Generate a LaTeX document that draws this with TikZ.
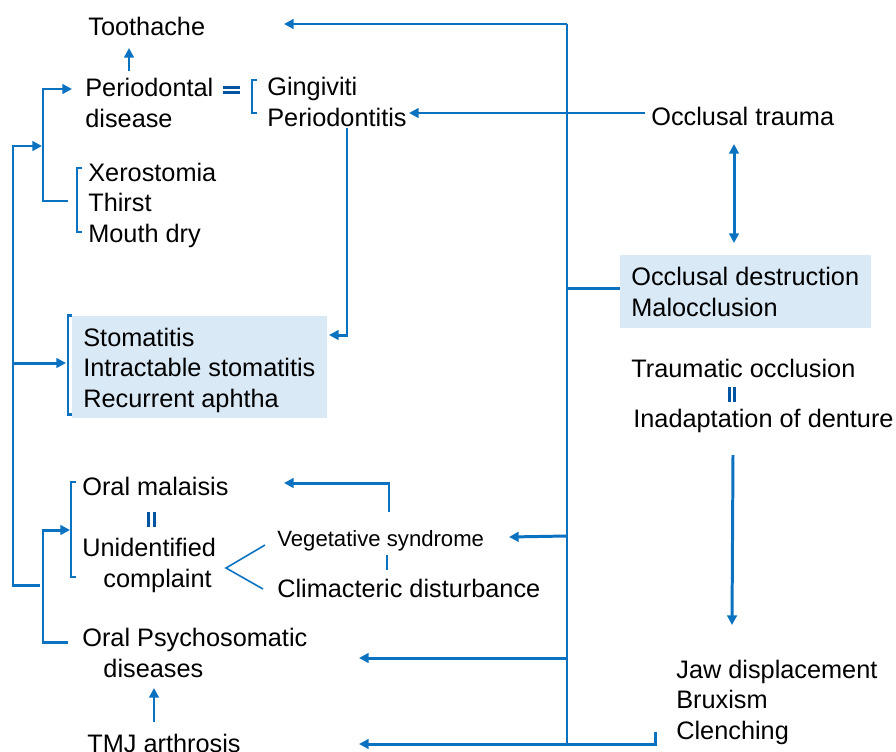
\documentclass[tikz,border=0pt]{standalone}
\usepackage{fontspec}
\setmainfont{Liberation Sans}
\usetikzlibrary{arrows.meta}

\definecolor{lineblue}{RGB}{10,114,192}
\definecolor{eqblue}{RGB}{0,84,160}
\definecolor{boxblue}{RGB}{218,233,246}

\tikzset{
    txt/.style={inner sep=0pt, anchor=base west, align=left, font=\fontsize{14.4}{17.3}\selectfont},
    smalltxt/.style={txt, font=\fontsize{12.6}{15}\selectfont},
    hlbox/.style={fill=boxblue, inner sep=0pt, anchor=north west},
    conn/.style={draw=lineblue, line width=1.7pt},
    thin/.style={draw=lineblue, line width=0.8pt},
    arr/.style={conn, -{Triangle[length=5.5pt, width=5.5pt]}},
    darr/.style={conn, {Triangle[length=5.5pt, width=5.5pt]}-{Triangle[length=5.5pt, width=5.5pt]}},
    eqmark/.style={draw=eqblue, line width=1.8pt}
}

\begin{document}
\begin{tikzpicture}[x=0.02cm, y=-0.02cm]
    \useasboundingbox (0,0) rectangle (896,751);

    % shaded boxes
    \node[hlbox, minimum width=145.1pt, minimum height=57.8pt] (stbox) at (72,316) {};
    \node[hlbox, minimum width=142.9pt, minimum height=41.4pt] (ocbox) at (620,255) {};

    % left column (multi-line nodes sit on their last line)
    \node[txt] (tooth) at (88,35) {Toothache};
    \node[txt] (perio) at (85,127) {Periodontal\\disease};
    \node[txt] (ging) at (267,126) {Gingiviti\\Periodontitis};
    \node[txt] (xero) at (88,242) {Xerostomia\\Thirst\\Mouth dry};
    \node[txt] (stoma) at (83,407) {Stomatitis\\Intractable stomatitis\\Recurrent aphtha};
    \node[txt] (malaise) at (82,495) {Oral malaisis};
    \node[txt] (unid) at (82,587) {Unidentified\\\hspace*{12pt}complaint};
    \node[smalltxt] (veg) at (277,546) {Vegetative syndrome};
    \node[txt] (clim) at (277,597) {Climacteric disturbance};
    \node[txt] (psycho) at (82,677) {Oral Psychosomatic\\\hspace*{12pt}diseases};
    \node[txt] (tmj) at (87,752) {TMJ arthrosis};

    % right column
    \node[txt] (trauma) at (651,125) {Occlusal trauma};
    \node[txt] (ocdes) at (631,316) {Occlusal destruction\\Malocclusion};
    \node[txt] (tocc) at (631,377) {Traumatic occlusion};
    \node[txt] (inad) at (633,427) {Inadaptation of denture};
    \node[txt] (jaw) at (676,739) {Jaw displacement\\Bruxism\\Clenching};

    % junctions and arrow ends
    \coordinate (ttop) at (567,24);
    \coordinate (tbot) at (567,744);
    \coordinate (toothin) at (284,24);
    \coordinate (trout) at (645,113);
    \coordinate (gingin) at (409,113);
    \coordinate (pdrop) at (347,128);
    \coordinate (stin) at (329,335);
    \coordinate (ocjoin) at (567,288);
    \coordinate (trlow) at (734,144);
    \coordinate (ochigh) at (734,243);
    \coordinate (inadout) at (733,455);
    \coordinate (jawin) at (732,625);
    \coordinate (jawout) at (655,732);
    \coordinate (tmjin) at (359,744);
    \coordinate (psyjoin) at (567,658);
    \coordinate (psyin) at (359,658);
    \coordinate (vegjoin) at (567,536);
    \coordinate (vegin) at (509,537);
    \coordinate (vegup) at (389,512);
    \coordinate (malin) at (284,483);
    \coordinate (perout) at (129,71);
    \coordinate (toothup) at (129,48);
    \coordinate (tmjout) at (154,722);
    \coordinate (psyup) at (154,688);

    % trunk and its branches
    \draw[conn] (ttop) -- (tbot);
    \draw[arr] (ttop) -- (toothin);
    \draw[arr] (trout) -- (gingin);
    \draw[arr] (pdrop) |- (stin);
    \draw[conn] (ocjoin) -- (ocbox.west |- ocjoin);
    \draw[darr] (trlow) -- (ochigh);
    \draw[arr] (inadout) -- (jawin);
    \draw[arr] (jawout) |- (tmjin);
    \draw[arr] (psyjoin) -- (psyin);
    \draw[arr] (vegjoin) -- (vegin);
    \draw[arr] (vegup) |- (malin);
    \draw[arr] (perout) -- (toothup);
    \draw[arr] (tmjout) -- (psyup);

    % left brackets
    \draw[arr] (40,585) -| (13,146) -- (42,146);
    \draw[arr] (13,363) -- (66,363);
    \draw[arr] (68,201) -| (43,89) -- (72,89);
    \draw[arr] (68,642) -| (43,530) -- (70,530);
    \draw[thin] (82,168) -| (77,232) -- (82,232);
    \draw[conn] (257,80) -| (252,113) -- (257,113);
    \draw[conn] (72,315) -| (68,414) -- (72,414);
    \draw[conn, line width=1.2pt] (76,482) -| (71,577) -- (76,577);

    % equal marks
    \draw[eqmark] (223,87.3) -- (240,87.3) (223,92.3) -- (240,92.3);
    \draw[eqmark] (148.3,512) -- (148.3,527) (154.3,512) -- (154.3,527);
    \draw[eqmark] (729.3,387) -- (729.3,402) (734.3,387) -- (734.3,402);
    \draw[conn] (387,555) -- (387,570);
    \draw[thin, line width=0.9pt] (265,545) -- (226,568) -- (263,589);
\end{tikzpicture}
\end{document}
